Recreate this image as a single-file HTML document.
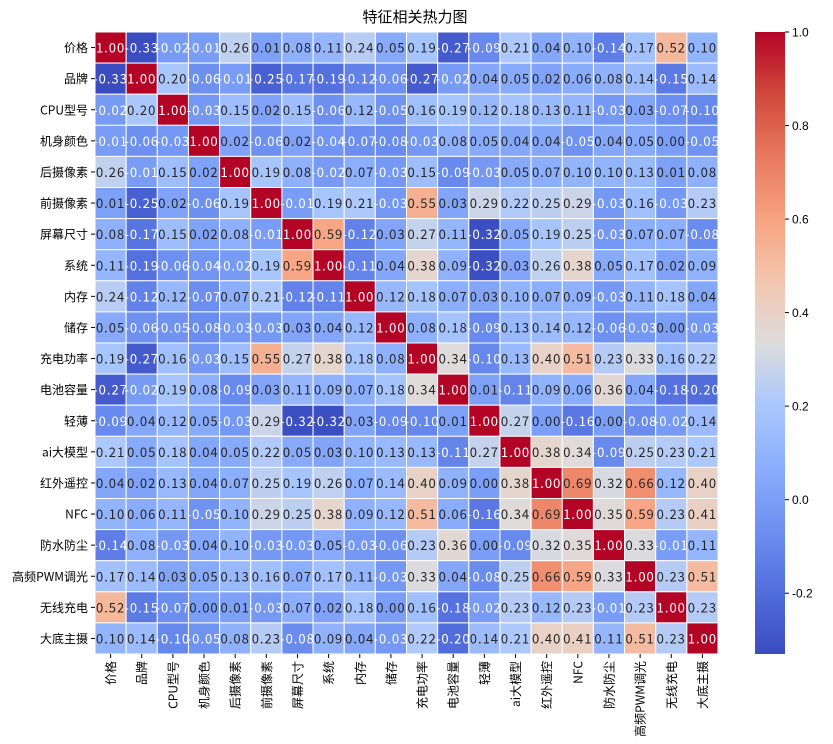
<!DOCTYPE html>
<html><head><meta charset="utf-8">
<style>
html,body{margin:0;padding:0;background:#fff;}
svg{display:block;font-family:"WenQuanYi Zen Hei","Noto Sans CJK SC",sans-serif;}
</style></head>
<body>
<svg id="chart" width="833" height="744" viewBox="0 0 833 744">
<text x="415" y="22" text-anchor="middle" font-size="15" fill="#000">特征相关热力图</text>
<g id="cells"></g>
<g id="ylabels"></g>
<g id="xlabels"></g>
<defs><linearGradient id="cbgrad" x1="0" y1="1" x2="0" y2="0"></linearGradient></defs>
<rect id="cbar"></rect>
<g id="cbticks"></g>
</svg>
<script>
const categories = ["价格","品牌","CPU型号","机身颜色","后摄像素","前摄像素","屏幕尺寸","系统","内存","储存","充电功率","电池容量","轻薄","ai大模型","红外遥控","NFC","防水防尘","高频PWM调光","无线充电","大底主摄"];
const row0 = [1,-.33,-.02,-.01,.26,.01,.08,.11,.24,.05,.19,-.27,-.09,.21,.04,.10,-.14,.17,.52,.10];
const row1 = [-.33,1,.20,-.06,-.01,-.25,-.17,-.19,-.12,-.06,-.27,-.02,.04,.05,.02,.06,.08,.14,-.15,.14];
const row2 = [-.02,.20,1,-.03,.15,.02,.15,-.06,.12,-.05,.16,.19,.12,.18,.13,.11,-.03,.03,-.07,-.10];
const row3 = [-.01,-.06,-.03,1,.02,-.06,.02,-.04,-.07,-.08,-.03,.08,.05,.04,.04,-.05,.04,.05,.00,-.05];
const row4 = [.26,-.01,.15,.02,1,.19,.08,-.02,.07,-.03,.15,-.09,-.03,.05,.07,.10,.10,.13,.01,.08];
const row5 = [.01,-.25,.02,-.06,.19,1,-.01,.19,.21,-.03,.55,.03,.29,.22,.25,.29,-.03,.16,-.03,.23];
const row6 = [.08,-.17,.15,.02,.08,-.01,1,.59,-.12,.03,.27,.11,-.32,.05,.19,.25,-.03,.07,.07,-.08];
const row7 = [.11,-.19,-.06,-.04,-.02,.19,.59,1,-.11,.04,.38,.09,-.32,.03,.26,.38,.05,.17,.02,.09];
const row8 = [.24,-.12,.12,-.07,.07,.21,-.12,-.11,1,.12,.18,.07,.03,.10,.07,.09,-.03,.11,.18,.04];
const row9 = [.05,-.06,-.05,-.08,-.03,-.03,.03,.04,.12,1,.08,.18,-.09,.13,.14,.12,-.06,-.03,.00,-.03];
const row10 = [.19,-.27,.16,-.03,.15,.55,.27,.38,.18,.08,1,.34,-.10,.13,.40,.51,.23,.33,.16,.22];
const row11 = [-.27,-.02,.19,.08,-.09,.03,.11,.09,.07,.18,.34,1,.01,-.11,.09,.06,.36,.04,-.18,-.20];
const row12 = [-.09,.04,.12,.05,-.03,.29,-.32,-.32,.03,-.09,-.10,.01,1,.27,.00,-.16,.00,-.08,-.02,.14];
const row13 = [.21,.05,.18,.04,.05,.22,.05,.03,.10,.13,.13,-.11,.27,1,.38,.34,-.09,.25,.23,.21];
const row14 = [.04,.02,.13,.04,.07,.25,.19,.26,.07,.14,.40,.09,.00,.38,1,.69,.32,.66,.12,.40];
const row15 = [.10,.06,.11,-.05,.10,.29,.25,.38,.09,.12,.51,.06,-.16,.34,.69,1,.35,.59,.23,.41];
const row16 = [-.14,.08,-.03,.04,.10,-.03,-.03,.05,-.03,-.06,.23,.36,.00,-.09,.32,.35,1,.33,-.01,.11];
const row17 = [.17,.14,.03,.05,.13,.16,.07,.17,.11,-.03,.33,.04,-.08,.25,.66,.59,.33,1,.23,.51];
const row18 = [.52,-.15,-.07,.00,.01,-.03,.07,.02,.18,.00,.16,-.18,-.02,.23,.12,.23,-.01,.23,1,.23];
const row19 = [.10,.14,-.10,-.05,.08,.23,-.08,.09,.04,-.03,.22,-.20,.14,.21,.40,.41,.11,.51,.23,1];
const matrix = [row0,row1,row2,row3,row4,row5,row6,row7,row8,row9,row10,row11,row12,row13,row14,row15,row16,row17,row18,row19];
const cbTicks = [-0.2,0,0.2,0.4,0.6,0.8,1.0];
const vmin = -0.33, vmax = 1.0;

const NS = "http://www.w3.org/2000/svg";
const X0 = 95, X1 = 718, Y0 = 32, Y1 = 654;
const n = categories.length;
const cw = (X1-X0)/n, ch = (Y1-Y0)/n;
const xScale = i => X0 + i*cw;
const yScale = i => Y0 + i*ch;

const stops = [[0,[58,76,192]],[0.1,[82,110,221]],[0.2,[109,144,241]],[0.3,[139,174,253]],[0.4,[170,199,253]],[0.5,[221,220,220]],[0.6,[243,198,175]],[0.7,[246,163,128]],[0.8,[232,121,94]],[0.9,[207,72,60]],[1,[180,4,38]]];
function cmap(t){
  t = Math.max(0,Math.min(1,t));
  for(let k=1;k<stops.length;k++){
    if(t<=stops[k][0]){
      const a=stops[k-1],b=stops[k],f=(t-a[0])/(b[0]-a[0]);
      return a[1].map((v,j)=>Math.round(v+(b[1][j]-v)*f));
    }
  }
  return stops[stops.length-1][1];
}
const norm = v => (v-vmin)/(vmax-vmin);

const gCells = document.getElementById('cells');
for(let r=0;r<n;r++){
  for(let c=0;c<n;c++){
    const v = matrix[r][c];
    const col = cmap(norm(v));
    const rect = document.createElementNS(NS,'rect');
    rect.setAttribute('x',xScale(c)); rect.setAttribute('y',yScale(r));
    rect.setAttribute('width',cw); rect.setAttribute('height',ch);
    rect.setAttribute('fill',`rgb(${col})`);
    rect.setAttribute('stroke','#fff'); rect.setAttribute('stroke-width','1');
    
    
    gCells.appendChild(rect);
    const t = document.createElementNS(NS,'text');
    t.setAttribute('x',xScale(c)+cw/2); t.setAttribute('y',yScale(r)+ch/2+5);
    t.setAttribute('text-anchor','middle'); t.setAttribute('font-size','13');
    t.setAttribute('letter-spacing','1');
    t.setAttribute('fill', (v<0 || v>0.9) ? '#fff' : '#262626');
    t.textContent = v.toFixed(2);
    
    
    gCells.appendChild(t);
  }
}
const gy = document.getElementById('ylabels');
const gx = document.getElementById('xlabels');
categories.forEach((name,i)=>{
  const yc = yScale(i)+ch/2;
  const tk = document.createElementNS(NS,'line');
  tk.setAttribute('x1',X0-4); tk.setAttribute('x2',X0); tk.setAttribute('y1',yc); tk.setAttribute('y2',yc);
  tk.setAttribute('stroke','#000');
  
  
  gy.appendChild(tk);
  const t = document.createElementNS(NS,'text');
  t.setAttribute('x',X0-7); t.setAttribute('y',yc+4.5); t.setAttribute('text-anchor','end');
  t.setAttribute('font-size','12'); t.textContent = name;
  
  
  gy.appendChild(t);
  const xc = xScale(i)+cw/2;
  const tk2 = document.createElementNS(NS,'line');
  tk2.setAttribute('x1',xc); tk2.setAttribute('x2',xc); tk2.setAttribute('y1',Y1); tk2.setAttribute('y2',Y1+4);
  tk2.setAttribute('stroke','#000');
  
  
  gx.appendChild(tk2);
  const t2 = document.createElementNS(NS,'text');
  t2.setAttribute('transform',`translate(${xc+4.5},${Y1+7}) rotate(-90)`);
  t2.setAttribute('text-anchor','end'); t2.setAttribute('font-size','12');
  t2.textContent = name;
  
  
  gx.appendChild(t2);
});
const CBX = 755, CBW = 30;
const grad = document.getElementById('cbgrad');
for(let k=0;k<=20;k++){
  const s=document.createElementNS(NS,'stop');
  s.setAttribute('offset',k/20); s.setAttribute('stop-color',`rgb(${cmap(k/20)})`);
  grad.appendChild(s);
}
const cb = document.getElementById('cbar');
cb.setAttribute('x',CBX); cb.setAttribute('y',Y0); cb.setAttribute('width',CBW); cb.setAttribute('height',Y1-Y0);
cb.setAttribute('fill','url(#cbgrad)');
const cbY = v => Y1 - norm(v)*(Y1-Y0);
const gcb = document.getElementById('cbticks');
cbTicks.forEach(v=>{
  const y=cbY(v);
  const l=document.createElementNS(NS,'line');
  l.setAttribute('x1',CBX+CBW); l.setAttribute('x2',CBX+CBW+4); l.setAttribute('y1',y); l.setAttribute('y2',y);
  l.setAttribute('stroke','#000');
  
  
  gcb.appendChild(l);
  const t=document.createElementNS(NS,'text');
  t.setAttribute('x',CBX+CBW+7); t.setAttribute('y',y+4.5); t.setAttribute('font-size','12');
  t.setAttribute('font-family','"Liberation Sans",sans-serif');
  t.textContent = v.toFixed(1);
  
  
  gcb.appendChild(t);
});
</script>
</body></html>
